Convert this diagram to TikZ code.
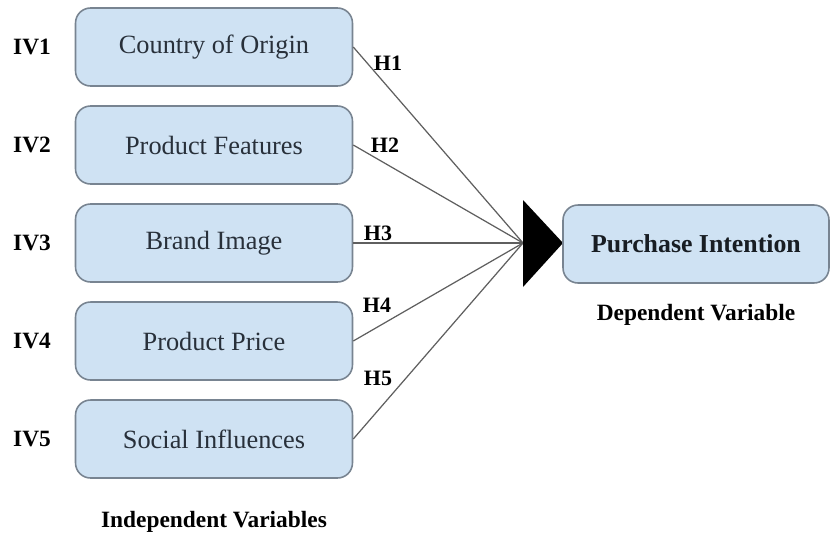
\documentclass[tikz,border=0pt]{standalone}
\usepackage{fontspec}
\setmainfont{Liberation Serif}
\usepackage{tikz}
\usetikzlibrary{positioning,calc}
\definecolor{BoxBlue}{RGB}{207,226,243}
\definecolor{BoxEdge}{RGB}{120,132,145}
\definecolor{BoxText}{RGB}{40,48,58}
\definecolor{LineGray}{RGB}{95,95,95}

\begin{document}
\begin{tikzpicture}[x=0.02cm,y=-0.02cm,
  varbox/.style={draw=BoxEdge,line width=0.9pt,fill=BoxBlue,rounded corners=0.3cm,
    minimum width=5.54cm,minimum height=1.56cm,text=BoxText,font=\fontsize{15}{18}\selectfont},
  tag/.style={font=\bfseries\fontsize{13.3}{16}\selectfont},
  link/.style={draw=LineGray,line width=0.7pt}]
\useasboundingbox (0,0) rectangle (831,535);
\coordinate (join) at (523,243);
% independent variables
\foreach \i/\lab/\y/\hx/\hy in {1/Country of Origin/47/388/63, 2/Product Features/145/385/145,
  3/Brand Image/243/378/233, 4/Product Price/341/377/305, 5/Social Influences/439/378/378}{
  \node[varbox] (box\i) at (214,\y) {\raisebox{-2pt}{\lab}};
  \node[tag] (iv\i) at (32,\y) {IV\i};
  \draw[link] (box\i.east) -- (join);
  \node[tag,font=\bfseries\fontsize{12.5}{15}\selectfont] (h\i) at (\hx,\hy) {H\i};
}
% arrow head
\fill (join) ++(0,-43) -- (563,243) -- (523,287) -- cycle;
\node[varbox,minimum width=5.32cm,text=BoxText!60!black,font=\bfseries\fontsize{14.7}{18}\selectfont]
  (dv) at (696,244) {\raisebox{-1pt}{Purchase Intention}};
\node[tag,below=0.28cm of dv] (dvlab) {Dependent Variable};
\node[tag] (ivlab) at (214,522) {Independent Variables};
\end{tikzpicture}
\end{document}
